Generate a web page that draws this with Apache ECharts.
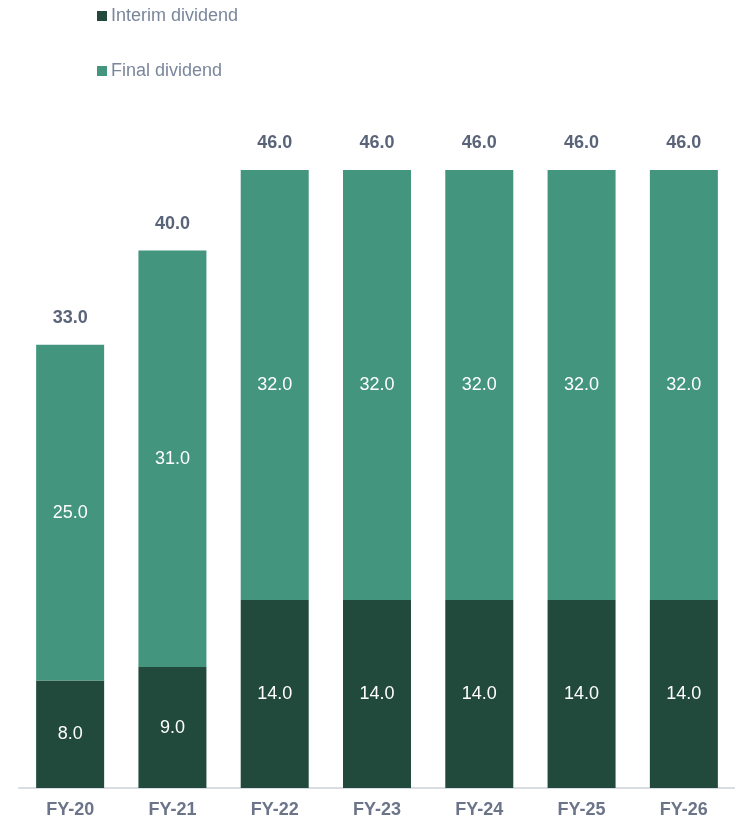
<!DOCTYPE html>
<html>
<head>
<meta charset="utf-8">
<script src="https://cdn.jsdelivr.net/npm/echarts@6/dist/echarts.min.js"></script>
<style>
  html, body { margin: 0; padding: 0; background: #fff; }
  #chart { width: 735px; height: 821px; }
</style>
</head>
<body>
<div id="chart"></div>
<script>
const categories = ['FY-20', 'FY-21', 'FY-22', 'FY-23', 'FY-24', 'FY-25', 'FY-26'];
const interim = [8.0, 9.0, 14.0, 14.0, 14.0, 14.0, 14.0];
const finalDiv = [25.0, 31.0, 32.0, 32.0, 32.0, 32.0, 32.0];
const totals = [33.0, 40.0, 46.0, 46.0, 46.0, 46.0, 46.0];

const chart = echarts.init(document.getElementById('chart'));

const innerLabel = {
  show: true,
  position: 'inside',
  color: '#ffffff',
  fontSize: 18,
  formatter: p => p.value.toFixed(1)
};

chart.setOption({
  textStyle: { fontFamily: 'Liberation Sans, Arial, sans-serif' },
  legend: {
    orient: 'vertical',
    left: 92,
    top: 2,
    itemGap: 37,
    itemWidth: 10,
    itemHeight: 10,
    icon: 'rect',
    data: ['Interim dividend', 'Final dividend'],
    textStyle: { color: '#7a869c', fontSize: 18, padding: [0, 0, 0, -1] }
  },
  grid: {
    left: 19,
    top: 170,
    width: 719,
    bottom: 33,
    containLabel: false
  },
  xAxis: {
    type: 'category',
    data: categories,
    axisLine: { lineStyle: { color: '#d9dde3', width: 2 } },
    axisTick: { show: false },
    axisLabel: { color: '#6b7488', fontSize: 18, fontWeight: 'bold', margin: 13 }
  },
  yAxis: {
    type: 'value',
    min: 0,
    max: 46,
    show: false,
    splitLine: { show: false }
  },
  series: [{
    name: 'Interim dividend',
    type: 'bar',
    stack: 'div',
    barWidth: 68,
    itemStyle: { color: '#214a3d' },
    label: innerLabel,
    data: interim
  }, {
    name: 'Final dividend',
    type: 'bar',
    stack: 'div',
    barWidth: 68,
    itemStyle: { color: '#43957d' },
    label: innerLabel,
    data: finalDiv
  }, {
    name: 'Total',
    type: 'bar',
    stack: 'div',
    barWidth: 68,
    itemStyle: { color: 'transparent' },
    label: {
      show: true,
      position: 'top',
      distance: 18,
      color: '#5a6479',
      fontSize: 18,
      fontWeight: 'bold',
      formatter: p => totals[p.dataIndex].toFixed(1)
    },
    data: categories.map(() => 0)
  }]
});
</script>
</body>
</html>
